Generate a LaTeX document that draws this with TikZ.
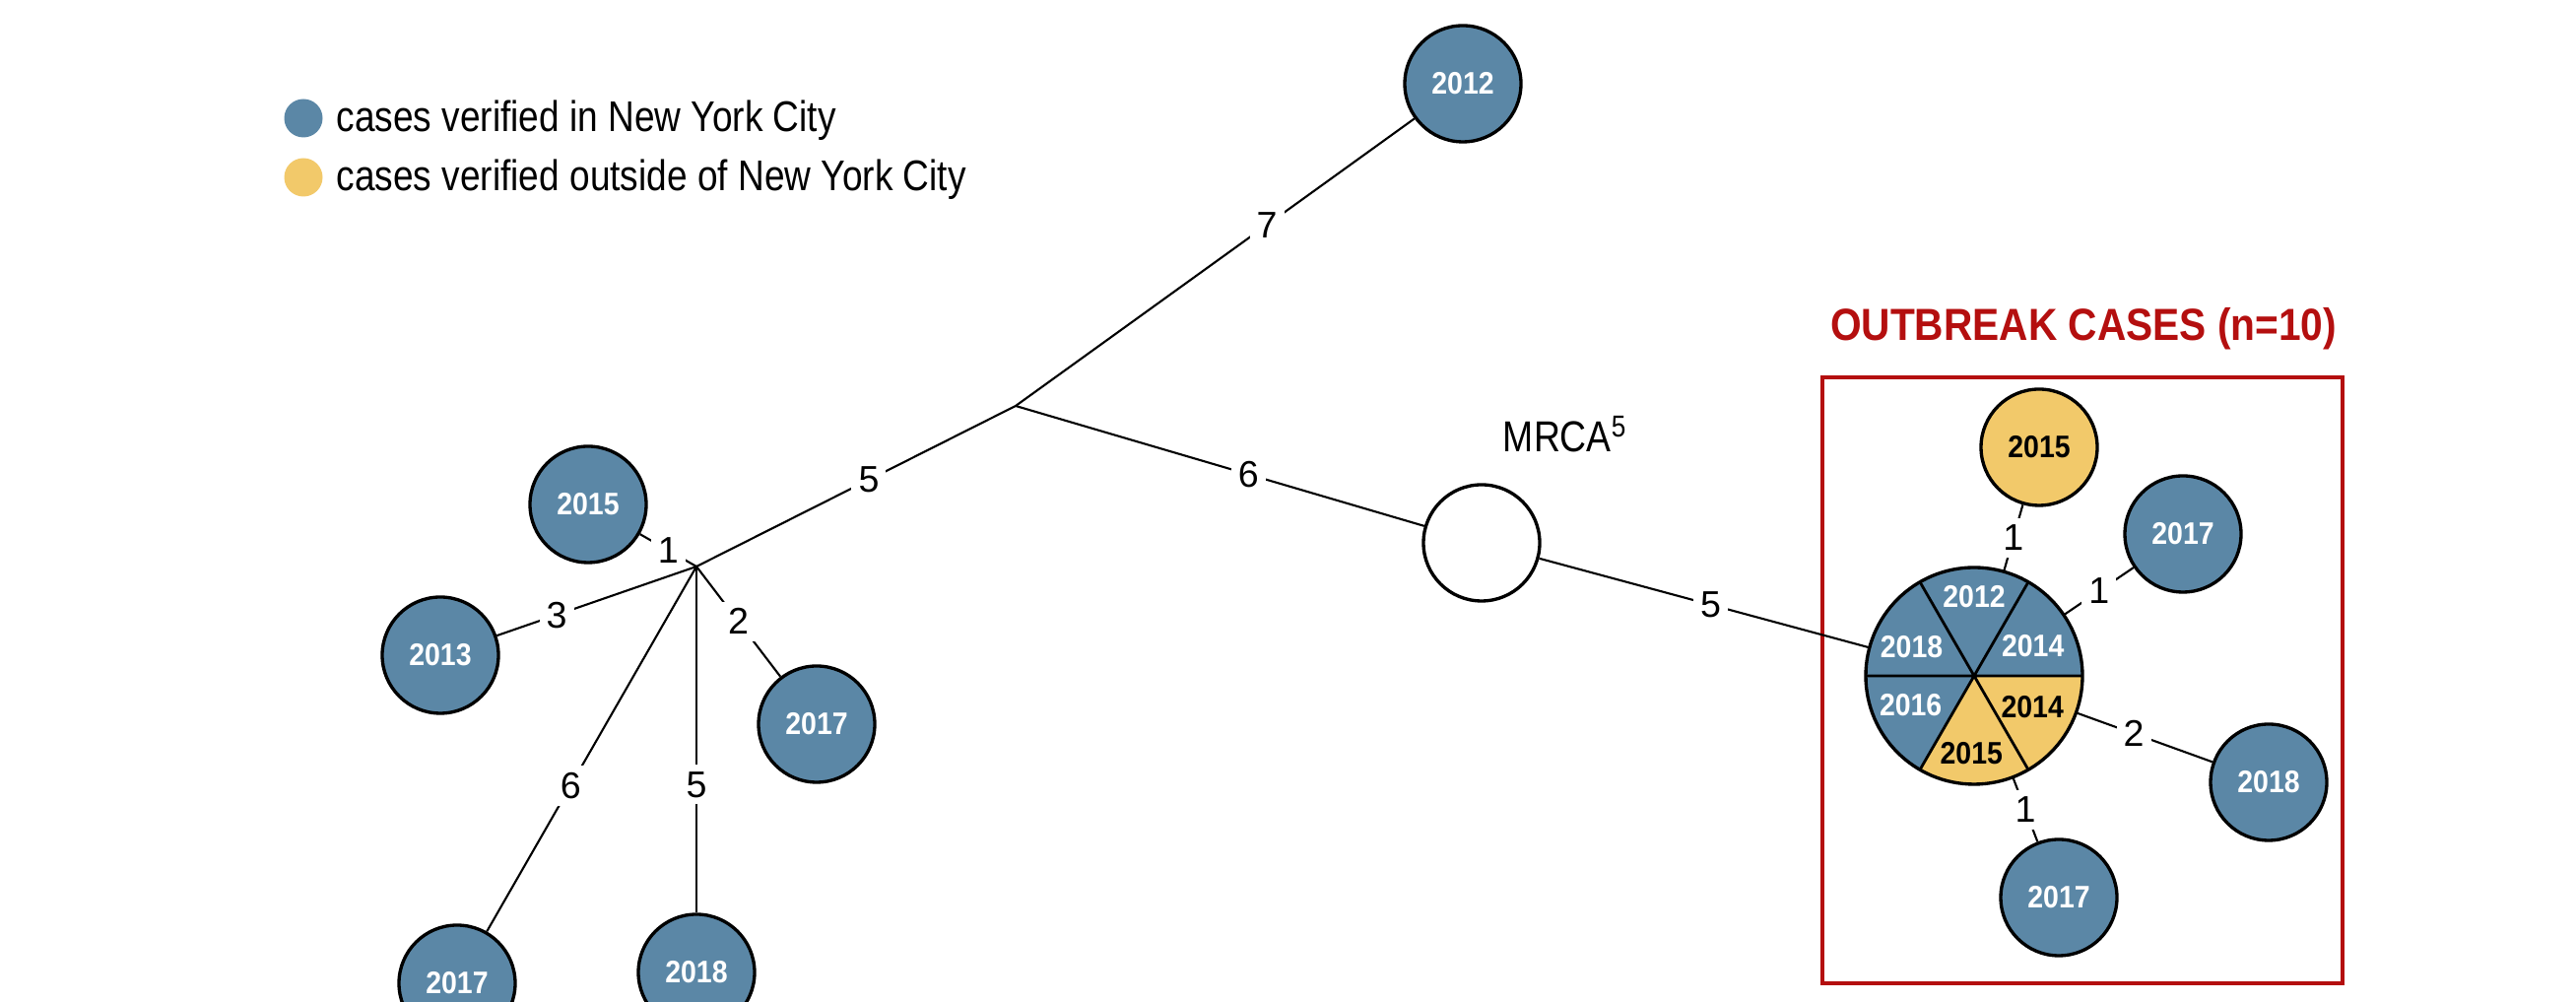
\documentclass[tikz,border=0pt]{standalone}
\usepackage{tikz}
\usepackage{fontspec}
\setmainfont{Liberation Sans}
\newfontfamily\narrowfont[FakeStretch=0.85]{Liberation Sans}
\newfontfamily\headfont[FakeStretch=0.89]{Liberation Sans}
\newfontfamily\yearfont[FakeStretch=0.9]{Liberation Sans}
\definecolor{nycblue}{RGB}{91,135,166}
\definecolor{outyellow}{RGB}{242,201,106}
\definecolor{outbreakred}{RGB}{180,15,15}

\begin{document}
\begin{tikzpicture}[
    nycnode/.style={circle, draw=black, line width=0.95pt, fill=nycblue, minimum size=1.18cm, inner sep=0pt,
                    text=white, font=\yearfont\bfseries\fontsize{9}{10}\selectfont},
    outnode/.style={nycnode, fill=outyellow, text=black},
    legdot/.style={circle, inner sep=0pt, minimum size=0.39cm},
    legtext/.style={anchor=west, inner sep=0pt, font=\narrowfont\fontsize{12.4}{14}\selectfont},
    branch/.style={line width=0.6pt},
    elabel/.style={fill=white, inner sep=2pt, font=\fontsize{10.7}{12}\selectfont},
]
    \useasboundingbox (0,0) rectangle (26.15,10.17);

    % Legend
    \node[legdot, fill=nycblue] (legnyc) at (3.08,8.97) {};
    \node[legtext] (legnyctext) at (3.41,8.95) {cases verified in New York City};
    \node[legdot, fill=outyellow] (legout) at (3.08,8.37) {};
    \node[legtext] (legouttext) at (3.41,8.35) {cases verified outside of New York City};

    % Outbreak box and its title
    \draw[outbreakred, line width=1.4pt] (18.50,0.19) rectangle (23.78,6.34);
    \node[text=outbreakred, font=\headfont\bfseries\fontsize{13}{15}\selectfont] (title) at (21.15,6.83) {OUTBREAK CASES (n=10)};

    % Branch points of the tree
    \coordinate (jA) at (10.31,6.05);
    \coordinate (jB) at (7.07,4.42);

    % Cases on the left cluster
    \node[nycnode] (top2012) at (14.85,9.32) {2012};
    \node[nycnode] (b2015) at (5.97,5.05) {2015};
    \node[nycnode] (b2013) at (4.47,3.52) {2013};
    \node[nycnode] (b2017r) at (8.29,2.82) {2017};
    \node[nycnode] (b2017l) at (4.64,0.19) {2017};
    \node[nycnode] (b2018) at (7.07,0.30) {2018};

    % Most recent common ancestor
    \node[circle, draw=black, line width=0.95pt, fill=white, minimum size=1.18cm] (mrca) at (15.04,4.66) {};
    \node[font=\narrowfont\fontsize{12.5}{14}\selectfont] (mrcalabel) at (15.89,5.76) {MRCA\textsuperscript{5}};

    % Outbreak pie (six cases with identical genotype)
    \node[circle, minimum size=2.2cm, inner sep=0pt] (pie) at (20.04,3.31) {};
    \foreach \a/\col/\la/\lr/\yr/\tc in {0/nycblue/27/0.67/2014/white, 60/nycblue/90/0.80/2012/white,
        120/nycblue/155/0.70/2018/white, 180/nycblue/205/0.71/2016/white,
        240/outyellow/268/0.79/2015/black, 300/outyellow/332/0.67/2014/black} {
        \fill[\col] (pie.center) -- ++(\a:1.1) arc[start angle=\a, end angle=\a+60, radius=1.1] -- cycle;
        \node[text=\tc, font=\yearfont\bfseries\fontsize{9}{10}\selectfont] (slice\a) at ([shift={(\la:\lr)}]pie.center) {\yr};
    }
    \draw[line width=0.8pt] (pie.0) -- (pie.180) (pie.60) -- (pie.240) (pie.120) -- (pie.300);
    \draw[line width=0.95pt] (pie.center) circle[radius=1.1];

    % Cases around the outbreak
    \node[outnode] (o2015) at (20.70,5.63) {2015};
    \node[nycnode] (o2017a) at (22.16,4.75) {2017};
    \node[nycnode] (o2018) at (23.03,2.23) {2018};
    \node[nycnode] (o2017b) at (20.90,1.06) {2017};

    % Branches with SNP distances
    \draw[branch] (jA) -- node[elabel, pos=0.63] (d7) {7} (top2012);
    \draw[branch] (jA) -- node[elabel, pos=0.46] (d5a) {5} (jB);
    \draw[branch] (jA) -- node[elabel, pos=0.57] (d6a) {6} (mrca);
    \draw[branch] (mrca) -- node[elabel, pos=0.52] (d5b) {5} (pie);
    \draw[branch] (jB) -- node[elabel] (d1a) {1} (b2015);
    \draw[branch] (jB) -- node[elabel, pos=0.7] (d3) {3} (b2013);
    \draw[branch] (jB) -- node[elabel] (d2a) {2} (b2017r);
    \draw[branch] (jB) -- node[elabel, pos=0.6] (d6b) {6} (b2017l);
    \draw[branch] (jB) -- node[elabel, pos=0.63] (d5c) {5} (b2018);
    \draw[branch] (pie) -- node[elabel] (d1b) {1} (o2015);
    \draw[branch] (pie) -- node[elabel] (d1c) {1} (o2017a);
    \draw[branch] (pie) -- node[elabel, pos=0.42] (d2b) {2} (o2018);
    \draw[branch] (pie) -- node[elabel] (d1d) {1} (o2017b);
\end{tikzpicture}
\end{document}
